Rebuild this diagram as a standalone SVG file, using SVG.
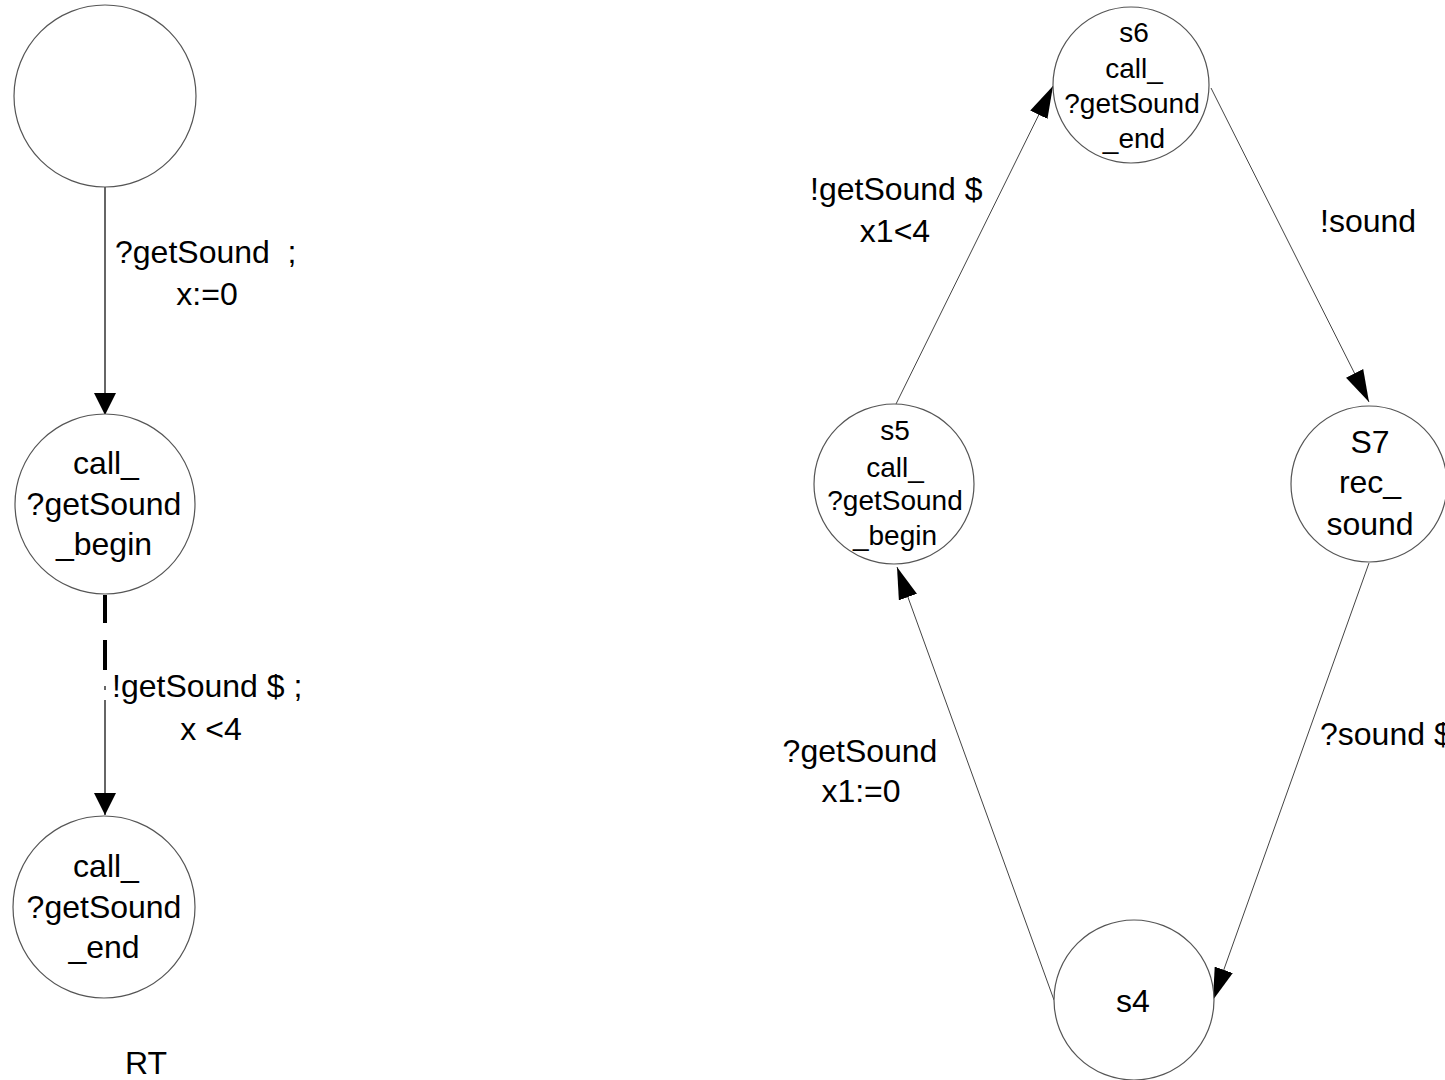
<svg xmlns="http://www.w3.org/2000/svg" width="1445" height="1080" viewBox="0 0 1445 1080">
  <style>
    .state { fill: #ffffff; stroke: #555555; stroke-width: 1.2; }
    .lbl { font-family: "Liberation Sans", Arial, sans-serif; font-size: 32px; fill: #000000; }
    .small { font-size: 28px; }
    .mid { text-anchor: middle; }
    .edgeL { stroke: #666666; stroke-width: 2; fill: none; }
    .edgeR { stroke: #444444; stroke-width: 1; fill: none; }
    .thick { stroke: #000000; stroke-width: 4; fill: none; }
  </style>
  <defs>
    <marker id="headL" markerUnits="userSpaceOnUse" markerWidth="22" markerHeight="22" viewBox="0 0 20 20" refX="20" refY="10" orient="auto">
      <path d="M0,0 L20,10 L0,20 Z" fill="#000000"/>
    </marker>
    <marker id="headR" markerUnits="userSpaceOnUse" markerWidth="32" markerHeight="20" viewBox="0 0 30 18" refX="30" refY="9" orient="auto">
      <path d="M0,0 L30,9 L0,18 Z" fill="#000000"/>
    </marker>
  </defs>

  <rect width="1445" height="1080" fill="#ffffff"/>

  <!-- connectors -->
  <g id="connectors">
    <line class="edgeL" x1="105" y1="187" x2="105" y2="415" marker-end="url(#headL)"/>
    <line class="thick" x1="105" y1="595" x2="105" y2="623"/>
    <line class="thick" x1="105" y1="640" x2="105" y2="670"/>
    <line class="edgeL" x1="105" y1="686" x2="105" y2="690"/>
    <line class="edgeL" x1="105" y1="700" x2="105" y2="815" marker-end="url(#headL)"/>

    <line class="edgeR" x1="896" y1="404" x2="1053" y2="86" marker-end="url(#headR)"/>
    <line class="edgeR" x1="1211" y1="88" x2="1369" y2="402" marker-end="url(#headR)"/>
    <line class="edgeR" x1="1369" y1="563" x2="1213" y2="1000" marker-end="url(#headR)"/>
    <line class="edgeR" x1="1054" y1="1000" x2="897" y2="567" marker-end="url(#headR)"/>

    <text class="lbl" x="115" y="263" style="white-space:pre">?getSound  ;</text>
    <text class="lbl mid" x="207" y="305">x:=0</text>
    <text class="lbl" x="112" y="697" style="white-space:pre">!getSound $ ;</text>
    <text class="lbl mid" x="211" y="740" style="white-space:pre">x &lt;4</text>

    <text class="lbl" x="810" y="200">!getSound $</text>
    <text class="lbl mid" x="895" y="242">x1&lt;4</text>
    <text class="lbl" x="1320" y="232">!sound</text>
    <text class="lbl" x="1320" y="745">?sound $</text>
    <text class="lbl mid" x="860" y="762">?getSound</text>
    <text class="lbl mid" x="861" y="802">x1:=0</text>
  </g>

  <!-- RT automaton -->
  <g id="rt_init">
    <circle class="state" cx="105" cy="96" r="91"/>
  </g>
  <g id="rt_begin">
    <circle class="state" cx="105" cy="504" r="90"/>
    <text class="lbl mid" x="106" y="474">call_</text>
    <text class="lbl mid" x="104" y="515">?getSound</text>
    <text class="lbl mid" x="104" y="555">_begin</text>
  </g>
  <g id="rt_end">
    <circle class="state" cx="104" cy="907" r="91"/>
    <text class="lbl mid" x="106" y="877">call_</text>
    <text class="lbl mid" x="104" y="918">?getSound</text>
    <text class="lbl mid" x="104" y="958">_end</text>
  </g>
  <text id="rt_title" class="lbl mid" x="146" y="1074">RT</text>

  <!-- s4..S7 automaton -->
  <g id="s6">
    <circle class="state" cx="1131" cy="85" r="78"/>
    <text class="lbl small mid" x="1134" y="42">s6</text>
    <text class="lbl small mid" x="1134" y="78">call_</text>
    <text class="lbl small mid" x="1132" y="113">?getSound</text>
    <text class="lbl small mid" x="1134" y="148">_end</text>
  </g>
  <g id="s5">
    <circle class="state" cx="894" cy="484" r="80"/>
    <text class="lbl small mid" x="895" y="440">s5</text>
    <text class="lbl small mid" x="895" y="477">call_</text>
    <text class="lbl small mid" x="895" y="510">?getSound</text>
    <text class="lbl small mid" x="895" y="545">_begin</text>
  </g>
  <g id="S7">
    <circle class="state" cx="1369" cy="484" r="78"/>
    <text class="lbl mid" x="1370" y="453">S7</text>
    <text class="lbl mid" x="1370" y="493">rec_</text>
    <text class="lbl mid" x="1370" y="535">sound</text>
  </g>
  <g id="s4">
    <circle class="state" cx="1134" cy="1000" r="80"/>
    <text class="lbl mid" x="1133" y="1012">s4</text>
  </g>
</svg>
